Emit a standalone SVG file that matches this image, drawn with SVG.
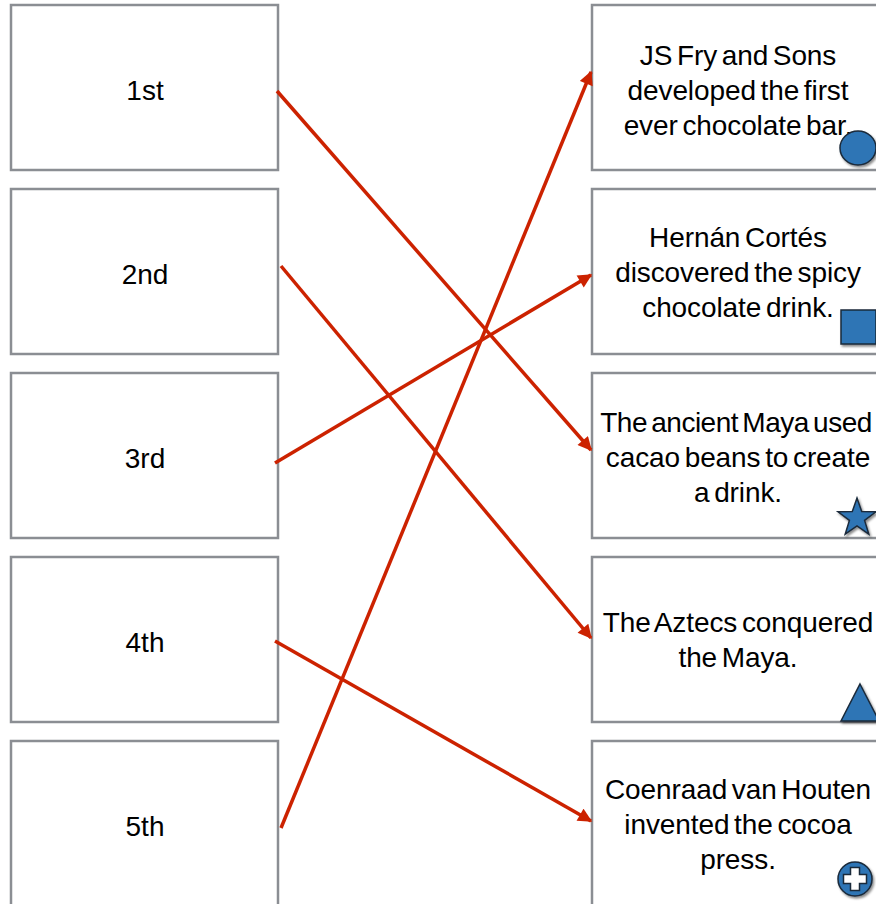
<svg xmlns="http://www.w3.org/2000/svg" width="876" height="904" viewBox="0 0 876 904">
<style>
.box{fill:#fff;stroke:#8b8e93;stroke-width:2.5}
.lt{font-family:"Liberation Sans",Arial,sans-serif;font-size:28px;fill:#000;text-anchor:middle}
.rt{font-family:"Liberation Sans",Arial,sans-serif;font-size:28px;fill:#000;text-anchor:middle;word-spacing:-3px;letter-spacing:-0.1px}
.con{stroke:#cc2200;stroke-width:3.5;fill:none;marker-end:url(#ah)}
.shp{fill:#2f74b5;stroke:#1a2a3a;stroke-width:1.5}
</style>
<defs>
<marker id="ah" viewBox="0 0 10 10" refX="9" refY="5" markerWidth="4.5" markerHeight="4" orient="auto" markerUnits="strokeWidth">
<path d="M0,0 L10,5 L0,10 z" fill="#cc2200"/>
</marker>
<filter id="sh" x="-30%" y="-30%" width="170%" height="170%">
<feDropShadow dx="1.5" dy="2" stdDeviation="1.2" flood-color="#000" flood-opacity="0.45"/>
</filter>
</defs>
<g id="n1st"><rect class="box" x="11" y="5" width="267" height="165"/><text class="lt" x="145" y="100">1st</text></g>
<g id="n2nd"><rect class="box" x="11" y="189" width="267" height="165"/><text class="lt" x="145" y="284">2nd</text></g>
<g id="n3rd"><rect class="box" x="11" y="373" width="267" height="165"/><text class="lt" x="145" y="468">3rd</text></g>
<g id="n4th"><rect class="box" x="11" y="557" width="267" height="165"/><text class="lt" x="145" y="652">4th</text></g>
<g id="n5th"><rect class="box" x="11" y="741" width="267" height="165"/><text class="lt" x="145" y="836">5th</text></g>

<g id="rFry"><rect class="box" x="592" y="5" width="295" height="165"/>
<text class="rt" x="738" y="65">JS Fry and Sons</text>
<text class="rt" x="738" y="100">developed the first</text>
<text class="rt" x="738" y="135">ever chocolate bar.</text>
<ellipse class="shp" cx="858" cy="148" rx="18" ry="17" filter="url(#sh)"/></g>
<g id="rCortes"><rect class="box" x="592" y="189" width="295" height="165"/>
<text class="rt" x="738" y="247">Hernán Cortés</text>
<text class="rt" x="738" y="282">discovered the spicy</text>
<text class="rt" x="738" y="317">chocolate drink.</text>
<rect class="shp" x="841" y="310" width="35" height="34" filter="url(#sh)"/></g>
<g id="rMaya"><rect class="box" x="592" y="373" width="295" height="165"/>
<text class="rt" x="736" y="432" style="letter-spacing:-0.5px">The ancient Maya used</text>
<text class="rt" x="738" y="467">cacao beans to create</text>
<text class="rt" x="738" y="502">a drink.</text>
<polygon class="shp" points="857,498 861.7,511.5 876,511.8 864.6,520.4 868.8,534.2 857,526 845.2,534.2 849.4,520.4 838,511.8 852.3,511.5" filter="url(#sh)"/></g>
<g id="rAztecs"><rect class="box" x="592" y="557" width="295" height="165"/>
<text class="rt" x="738" y="632">The Aztecs conquered</text>
<text class="rt" x="738" y="667">the Maya.</text>
<polygon class="shp" points="860,684 879,721 841,721" filter="url(#sh)"/></g>
<g id="rHouten"><rect class="box" x="592" y="741" width="295" height="165"/>
<text class="rt" x="738" y="799">Coenraad van Houten</text>
<text class="rt" x="738" y="834">invented the cocoa</text>
<text class="rt" x="738" y="869">press.</text>
<circle class="shp" cx="855" cy="879" r="17" filter="url(#sh)"/>
<path d="M850.5,867.5 h9 v7 h7 v9 h-7 v7 h-9 v-7 h-7 v-9 h7 z" fill="#fff" stroke="#1a2a3a" stroke-width="1.5"/></g>

<g id="connectors">
<line class="con" x1="277" y1="91" x2="591" y2="450"/>
<line class="con" x1="281" y1="266" x2="591" y2="638"/>
<line class="con" x1="275" y1="463" x2="591" y2="275"/>
<line class="con" x1="275" y1="641" x2="591" y2="821"/>
<line class="con" x1="281" y1="828" x2="591" y2="72"/>
</g>
</svg>
